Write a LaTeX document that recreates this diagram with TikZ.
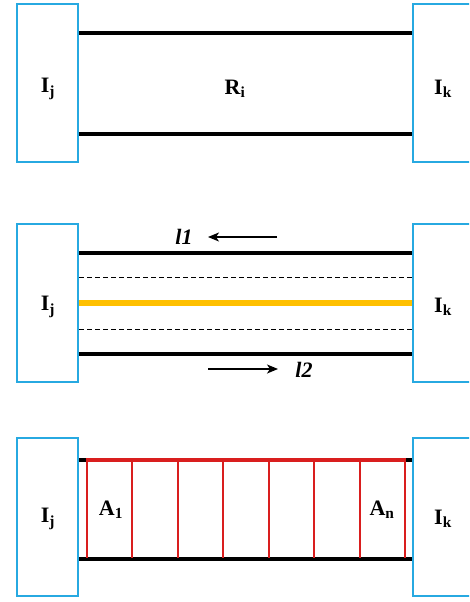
\documentclass[tikz,border=0pt]{standalone}
\usepackage{fontspec}
\setmainfont{Liberation Serif}
\usetikzlibrary{arrows.meta}
\definecolor{boxblue}{HTML}{27A9E1}
\definecolor{barorange}{HTML}{FFC000}
\definecolor{segred}{HTML}{D91E1E}
\tikzset{
  endbox/.style={draw=boxblue, line width=2.4pt, minimum width=61pt, minimum height=158pt, inner sep=0pt},
  bar/.style={line width=3.4pt, black},
  dashline/.style={line width=1pt, dash pattern=on 5pt off 3pt},
  midbar/.style={line width=6pt, barorange},
  seg/.style={line width=2.3pt, segred},
  lbl/.style={font=\fontsize{22}{24}\selectfont\bfseries, inner sep=0pt},
  dirarrow/.style={line width=1.8pt, -{Stealth[length=11pt,width=9pt,inset=3pt]}},
  dirlbl/.style={font=\fontsize{22}{24}\selectfont\bfseries\itshape, inner sep=0pt}
}
\begin{document}
\begin{tikzpicture}[x=1pt,y=-1pt]
\useasboundingbox (0,0) rectangle (469,602);
\clip (0,0) rectangle (469,602);
\fill[white] (0,0) rectangle (469,602);

% ---------- panel 1 ----------
\node[endbox] (L1) at (47.5,83) {};
\node[endbox] (R1) at (443.5,83) {};
\draw[bar] ([yshift=50pt]L1.east) -- ([yshift=50pt]R1.west);
\draw[bar] ([yshift=-51pt]L1.east) -- ([yshift=-51pt]R1.west);
\node[lbl] (tj1) at (48,89) {I\textsubscript{j}};
\node[lbl] (tr1) at (235,89) {R\textsubscript{i}};
\node[lbl] (tk1) at (443,89) {I\textsubscript{k}};

% ---------- panel 2 ----------
\node[endbox] (L2) at (47.5,303) {};
\node[endbox] (R2) at (443.5,303) {};
\draw[bar] ([yshift=50pt]L2.east) -- ([yshift=50pt]R2.west);
\draw[dashline] ([yshift=26pt]L2.east) -- ([yshift=26pt]R2.west);
\draw[midbar] (L2.east) -- (R2.west);
\draw[dashline] ([yshift=-26pt]L2.east) -- ([yshift=-26pt]R2.west);
\draw[bar] ([yshift=-51pt]L2.east) -- ([yshift=-51pt]R2.west);
\node[lbl] (tj2) at (48,307) {I\textsubscript{j}};
\node[lbl] (tk2) at (443,307) {I\textsubscript{k}};
\coordinate (a1s) at (277,237);
\coordinate (a1e) at (208,237);
\draw[dirarrow] (a1s) -- (a1e);
\node[dirlbl] (l1) at (184,237) {l1};
\coordinate (a2s) at (208,369);
\coordinate (a2e) at (278,369);
\draw[dirarrow] (a2s) -- (a2e);
\node[dirlbl] (l2) at (304,370) {l2};

% ---------- panel 3 ----------
\node[endbox] (L3) at (47.5,517) {};
\node[endbox] (R3) at (443.5,517) {};
\draw[bar] ([yshift=57pt]L3.east) -- ([yshift=57pt]R3.west);
\draw[bar] ([yshift=-42pt]L3.east) -- ([yshift=-42pt]R3.west);
\foreach \i/\x in {1/87,2/132,3/178,4/223,5/269,6/314,7/360,8/405}{
  \coordinate (st\i) at (\x,460);
  \coordinate (sb\i) at (\x,557.5);
  \draw[seg] (st\i) -- (sb\i);
}
\draw[seg, line width=3.4pt] ([xshift=-1.15pt]st1) -- ([xshift=1.15pt]st8);
\node[lbl] (tj3) at (48,519) {I\textsubscript{j}};
\node[lbl] (ta1) at (111,510) {A\textsubscript{1}};
\node[lbl] (tan) at (382,510) {A\textsubscript{n}};
\node[lbl] (tk3) at (443,519) {I\textsubscript{k}};
\end{tikzpicture}
\end{document}
